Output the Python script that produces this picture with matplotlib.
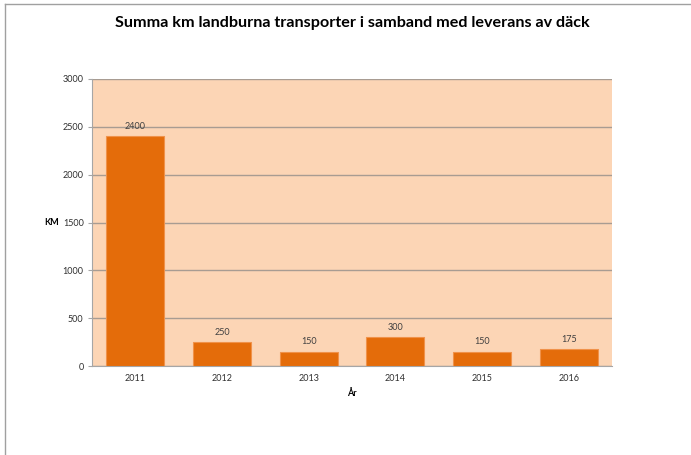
import matplotlib
matplotlib.use("Agg")
import matplotlib.pyplot as plt
from matplotlib.lines import Line2D

years = ["2011", "2012", "2013", "2014", "2015", "2016"]
km = [2400, 250, 150, 300, 150, 175]
yticks = [0, 500, 1000, 1500, 2000, 2500, 3000]
title = "Summa km landburna transporter i samband med leverans av däck"

plt.rcParams['font.family'] = ['Lato', 'DejaVu Sans']

W, H = 691, 455
fig = plt.figure(figsize=(W / 100, H / 100), dpi=100)
ax = fig.add_axes([92 / W, 1 - 366 / H, (612 - 92) / W, (366 - 79) / H])
ax.set_facecolor('#FCD5B5')

x = list(range(len(years)))
ax.bar(x, km, width=0.67, color='#E46C0A', edgecolor='#F0924A', linewidth=0.8, zorder=3)
for xi, v in zip(x, km):
    ax.annotate(str(v), (xi, v), xytext=(0, 4), textcoords='offset points',
                ha='center', va='bottom', fontsize=6.5, color='#404040')

ax.set_xlim(-0.5, len(years) - 0.5)
ax.set_ylim(0, 3000)
ax.set_yticks(yticks)
ax.set_xticks(x)
ax.set_xticklabels(years)
ax.yaxis.grid(True, color='#A89C92', linewidth=1.0, zorder=1)
ax.set_axisbelow(True)
for s in ['top', 'right']:
    ax.spines[s].set_visible(False)
ax.spines['left'].set_color('#A6A6A6')
ax.spines['bottom'].set_color('#A6A6A6')
ax.tick_params(axis='y', length=3, color='#A6A6A6', labelsize=6.5, labelcolor='#303030', pad=3)
ax.tick_params(axis='x', length=0, labelsize=6.5, labelcolor='#303030', pad=6)

ax.set_ylabel('KM', fontsize=6.5, fontweight='bold', rotation=0, va='center', ha='center')
ax.yaxis.set_label_coords(-0.077, 0.5)
ax.set_xlabel('År', fontsize=6.5, fontweight='bold', labelpad=4)

fig.text(352.5 / W, 1 - 23 / H, title, ha='center', va='center', fontsize=11.6, fontweight='bold')

# figure border lines (top and left)
fig.add_artist(Line2D([5 / W, 1], [1 - 4 / H, 1 - 4 / H], color='#A0A0A0', linewidth=1, transform=fig.transFigure))
fig.add_artist(Line2D([5.5 / W, 5.5 / W], [0, 1 - 4 / H], color='#A0A0A0', linewidth=1, transform=fig.transFigure))

fig.savefig('out.png', dpi=100)
